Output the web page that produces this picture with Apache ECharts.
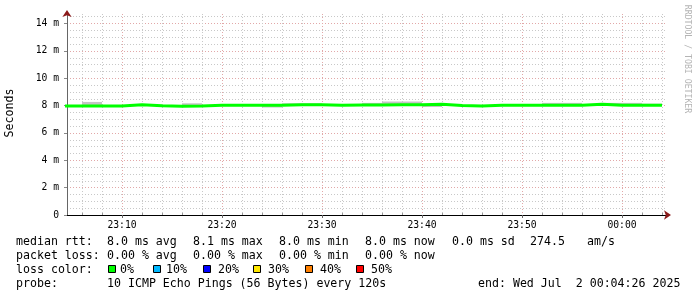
<!DOCTYPE html>
<html><head><meta charset="utf-8">
<script src="https://cdn.jsdelivr.net/npm/echarts@6/dist/echarts.min.js"></script>
<style>html,body{margin:0;padding:0;background:#fff}#c{width:697px;height:297px}</style>
</head><body><div id="c"></div>
<script>
// ---- data ----
const stepTimes = ['23:04','23:06','23:08','23:10','23:12','23:14','23:16','23:18','23:20','23:22',
                   '23:24','23:26','23:28','23:30','23:32','23:34','23:36','23:38','23:40','23:42',
                   '23:44','23:46','23:48','23:50','23:52','23:54','23:56','23:58','00:00','00:02'];
const endTime = '00:04';
const median    = [7.97,7.97,7.97,8.07,7.99,7.95,7.97,8.02,8.02,8.02,
                   8.03,8.07,8.07,8.02,8.05,8.05,8.07,8.07,8.10,8.01,
                   7.98,8.03,8.03,8.03,8.03,8.03,8.10,8.03,8.03,8.02];
const smokeLow  = [7.97,7.97,7.97,8.07,7.99,7.95,7.97,8.02,8.02,8.02,
                   7.86,8.07,8.07,8.02,8.05,8.05,8.07,8.07,7.90,8.01,
                   7.98,8.03,8.03,8.03,8.03,8.03,8.10,8.03,8.03,8.02];
const smokeHigh = [7.97,8.27,7.97,8.07,7.99,7.95,8.17,8.02,8.02,8.02,
                   8.03,8.17,8.17,8.02,8.05,8.20,8.30,8.30,8.10,8.01,
                   7.98,8.03,8.03,8.03,8.20,8.20,8.10,8.20,8.20,8.14];
const xMajorTicks = ['23:10','23:20','23:30','23:40','23:50','00:00'];
const xMinorTicks = ['23:06','23:08','23:12','23:14','23:16','23:18','23:22','23:24','23:26','23:28',
                     '23:32','23:34','23:36','23:38','23:42','23:44','23:46','23:48','23:52','23:54',
                     '23:56','23:58','00:02','00:04'];
const yTickLabels = {0:'0',2:'2 m',4:'4 m',6:'6 m',8:'8 m',10:'10 m',12:'12 m',14:'14 m'};
const axisStart = '23:04:30', axisEnd = '00:04:30';
const rttLabel = 'median rtt:';
const rttStats = ['8.0 ms avg','8.1 ms max','8.0 ms min','8.0 ms now','0.0 ms sd','274.5','am/s'];
const lossLabel = 'packet loss:';
const lossStats = ['0.00 % avg','0.00 % max','0.00 % min','0.00 % now'];
const colorLabel = 'loss color:';
const lossLabels = ['0%','10%','20%','30%','40%','50%'];
const lossColors = ['#00ff00','#00b8ff','#0000ff','#ffe800','#ff8000','#ff0000'];
const probeLabel = 'probe:';
const probeText = '10 ICMP Echo Pings (56 Bytes) every 120s';
const endText = 'end: Wed Jul  2 00:04:26 2025';
const yName = 'Seconds';
const watermark = 'RRDTOOL / TOBI OETIKER';

// ---- helpers ----
function toMin(t){ const p=t.split(':').map(Number); return (p[0]===23?0:60)+p[1]+(p[2]||0)/60; }
function stepData(vals){ const d=stepTimes.map((t,i)=>[toMin(t),vals[i]]); d.push([toMin(endTime),vals[vals.length-1]]); return d; }
const stepEnds = stepTimes.slice(1).concat([endTime]);
const smokeData = stepTimes.map((t,i)=>[toMin(t),toMin(stepEnds[i]),smokeLow[i],smokeHigh[i]])
                           .filter(d=>d[3]>d[2]);
const majorVals = xMajorTicks.map(toMin);
const minorVals = xMinorTicks.map(toMin);
const majorLabelMap = {}; xMajorTicks.forEach(t=>{majorLabelMap[toMin(t)]=t;});
const xMin = toMin(axisStart), xMax = toMin(axisEnd);
const yMax = 14.7;

const MONO = '"DejaVu Sans Mono"';
const legendFont = '11.6px ' + MONO;
const statCols = [107,193,279,365,452,530,587];
const rowY = [241.5,255.5,269.5,283.5];
const sqX = [108,153,203,253,305,356];
const sqLabelX = [120,166,218,268,320,371];

const graphics = [];
function txt(s,x,y){ graphics.push({type:'text',x:x,y:y,silent:true,
  style:{text:s,font:legendFont,fill:'#000',verticalAlign:'middle',align:'left'}}); }
txt(rttLabel,16,rowY[0]); rttStats.forEach((s,i)=>txt(s,statCols[i],rowY[0]));
txt(lossLabel,16,rowY[1]); lossStats.forEach((s,i)=>txt(s,statCols[i],rowY[1]));
txt(colorLabel,16,rowY[2]);
lossLabels.forEach((s,i)=>{
  graphics.push({type:'rect',silent:true,shape:{x:sqX[i]+0.5,y:265.5,width:7,height:7},
    style:{fill:lossColors[i],stroke:'#000',lineWidth:1}});
  txt(s,sqLabelX[i],rowY[2]);
});
txt(probeLabel,16,rowY[3]); txt(probeText,statCols[0],rowY[3]); txt(endText,478,rowY[3]);
graphics.push({type:'text',x:10,y:113,rotation:Math.PI/2,silent:true,
  style:{text:yName,font:'11.6px '+MONO,fill:'#000',align:'center',verticalAlign:'middle'}});
graphics.push({type:'text',x:687,y:59,rotation:-Math.PI/2,silent:true,
  style:{text:watermark,font:'8.2px '+MONO,fill:'#b4b4b4',align:'center',verticalAlign:'middle'}});

const chart = echarts.init(document.getElementById('c'), null, {renderer:'canvas'});
chart.setOption({
  animation:false,
  backgroundColor:'#fff',
  grid:{left:67,top:14,width:600,height:201,containLabel:false},
  xAxis:[
    { // minor grid + arrow
      type:'value',min:xMin,max:xMax,position:'bottom',
      axisLine:{show:true,lineStyle:{color:'#8b1a1a',width:0},symbol:['none','arrow'],symbolSize:[7,7],symbolOffset:[0,4]},
      axisTick:{show:true,customValues:minorVals,length:2,inside:true,lineStyle:{color:'#999'}},
      axisLabel:{show:false,customValues:minorVals},
      splitLine:{show:true,lineStyle:{color:'#c8c8c8',type:[1,2],width:1}}
    },
    { // major grid + labels
      type:'value',min:xMin,max:xMax,position:'bottom',
      axisLine:{show:true,lineStyle:{color:'#000',width:1}},
      axisTick:{show:true,customValues:majorVals,length:3,lineStyle:{color:'#666'}},
      axisLabel:{show:true,customValues:majorVals,margin:5,color:'#000',
        fontFamily:'DejaVu Sans Mono',fontSize:9.7,formatter:v=>majorLabelMap[Math.round(v)]||''},
      splitLine:{show:true,lineStyle:{color:'#e2a8a8',type:[1,2],width:1}}
    }
  ],
  yAxis:[
    { // minor grid + arrow
      type:'value',min:0,max:yMax,interval:0.5,position:'left',
      axisLine:{show:true,lineStyle:{color:'#8b1a1a',width:0},symbol:['none','arrow'],symbolSize:[7,7],symbolOffset:[0,4]},
      axisTick:{show:false},axisLabel:{show:false},
      splitLine:{show:true,showMaxLine:false,showMinLine:false,lineStyle:{color:'#c8c8c8',type:[1,2],width:1}}
    },
    { // major grid + labels
      type:'value',min:0,max:yMax,interval:2,position:'left',
      axisLine:{show:true,lineStyle:{color:'#666',width:1}},
      axisTick:{show:true,length:3,lineStyle:{color:'#888'}},
      axisLabel:{show:true,margin:8,color:'#000',fontFamily:'DejaVu Sans Mono',fontSize:9.7,
        showMaxLabel:false,formatter:v=>yTickLabels[v]!==undefined?yTickLabels[v]:''},
      splitLine:{show:true,showMaxLine:false,showMinLine:false,lineStyle:{color:'#e2a8a8',type:[1,2],width:1}}
    }
  ],
  series:[
    {type:'custom',name:'smoke',data:smokeData,clip:true,silent:true,z:2,
      encode:{x:[0,1],y:[2,3]},
      renderItem:(params,api)=>{
        const a=api.coord([api.value(0),api.value(3)]);
        const b=api.coord([api.value(1),api.value(2)]);
        return {type:'rect',shape:{x:a[0],y:a[1],width:b[0]-a[0],height:b[1]-a[1]},
          style:{fill:'#c4c4c4'}};
      }},
    {type:'line',name:'median',step:'end',data:stepData(median),
      symbol:'none',silent:true,lineStyle:{color:lossColors[0],width:3},z:4}
  ],
  graphic:graphics
});
</script></body></html>
